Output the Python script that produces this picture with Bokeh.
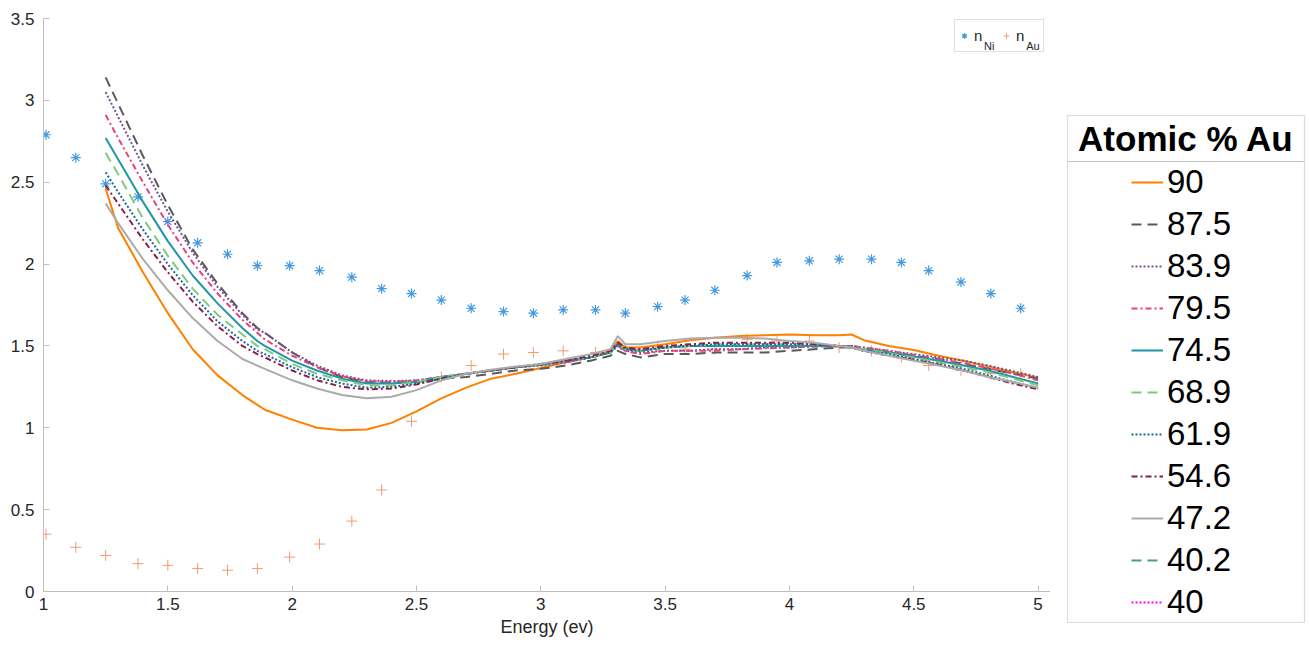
from bokeh.plotting import figure
from bokeh.layouts import row
from bokeh.models import (Legend, LegendItem, Label, BoxAnnotation, NumeralTickFormatter,
                          FixedTicker, Range1d)
from bokeh.embed import file_html
from bokeh.resources import INLINE

# ---------------- data ----------------
x_ticks = [1, 1.5, 2, 2.5, 3, 3.5, 4, 4.5, 5]
y_ticks = [0, 0.5, 1, 1.5, 2, 2.5, 3, 3.5]

e_curve = [1.25, 1.3, 1.4, 1.5, 1.6, 1.7, 1.8, 1.86, 1.89, 2.0, 2.1, 2.2, 2.3, 2.4, 2.5,
           2.6, 2.7, 2.8, 2.9, 3.0, 3.1, 3.2, 3.28, 3.31, 3.34, 3.4, 3.5, 3.6, 3.7, 3.8,
           3.9, 4.0, 4.1, 4.2, 4.25, 4.3, 4.4, 4.5, 4.6, 4.7, 4.8, 4.9, 5.0]

n_90 = [2.46, 2.22, 1.95, 1.70, 1.48, 1.32, 1.20, 1.14, 1.11, 1.05, 1.00, 0.985, 0.99, 1.03, 1.10,
        1.18, 1.245, 1.30, 1.33, 1.365, 1.40, 1.43, 1.47, 1.53, 1.49, 1.49, 1.51, 1.535, 1.55, 1.56,
        1.565, 1.57, 1.565, 1.565, 1.57, 1.535, 1.50, 1.475, 1.44, 1.41, 1.375, 1.34, 1.305]
n_87_5 = [3.14, 2.98, 2.66, 2.36, 2.09, 1.88, 1.70, 1.61, 1.58, 1.46, 1.37, 1.31, 1.28, 1.275, 1.28,
          1.30, 1.31, 1.33, 1.35, 1.36, 1.38, 1.41, 1.44, 1.47, 1.45, 1.43, 1.45, 1.45, 1.46, 1.46,
          1.46, 1.47, 1.48, 1.49, 1.49, 1.48, 1.46, 1.44, 1.42, 1.39, 1.36, 1.33, 1.30]
n_83_9 = [3.05, 2.90, 2.60, 2.32, 2.07, 1.86, 1.69, 1.60, 1.58, 1.46, 1.38, 1.32, 1.29, 1.285, 1.29,
          1.31, 1.33, 1.35, 1.37, 1.38, 1.40, 1.43, 1.46, 1.50, 1.47, 1.46, 1.47, 1.47, 1.48, 1.48,
          1.49, 1.49, 1.50, 1.50, 1.50, 1.49, 1.47, 1.45, 1.43, 1.41, 1.38, 1.345, 1.31]
n_79_5 = [2.91, 2.77, 2.50, 2.24, 2.01, 1.82, 1.66, 1.58, 1.54, 1.44, 1.37, 1.315, 1.285, 1.28, 1.29,
          1.31, 1.33, 1.35, 1.37, 1.385, 1.40, 1.43, 1.46, 1.50, 1.47, 1.45, 1.47, 1.47, 1.47, 1.48,
          1.485, 1.49, 1.495, 1.50, 1.50, 1.49, 1.47, 1.445, 1.42, 1.395, 1.365, 1.33, 1.29]
n_74_5 = [2.77, 2.64, 2.38, 2.14, 1.93, 1.76, 1.61, 1.53, 1.50, 1.41, 1.35, 1.30, 1.27, 1.27, 1.28,
          1.31, 1.33, 1.35, 1.37, 1.385, 1.41, 1.43, 1.46, 1.51, 1.48, 1.47, 1.49, 1.50, 1.50, 1.50,
          1.50, 1.50, 1.50, 1.50, 1.49, 1.48, 1.46, 1.435, 1.41, 1.38, 1.35, 1.31, 1.27]
n_68_9 = [2.68, 2.55, 2.28, 2.05, 1.85, 1.69, 1.57, 1.50, 1.48, 1.39, 1.33, 1.29, 1.26, 1.26, 1.28,
          1.31, 1.33, 1.35, 1.37, 1.385, 1.41, 1.43, 1.46, 1.51, 1.48, 1.47, 1.49, 1.50, 1.51, 1.51,
          1.51, 1.51, 1.51, 1.50, 1.49, 1.48, 1.455, 1.43, 1.40, 1.37, 1.34, 1.30, 1.26]
n_61_9 = [2.56, 2.44, 2.21, 2.00, 1.81, 1.65, 1.53, 1.47, 1.45, 1.37, 1.31, 1.27, 1.245, 1.25, 1.27,
          1.30, 1.33, 1.35, 1.37, 1.385, 1.41, 1.43, 1.46, 1.51, 1.48, 1.47, 1.49, 1.50, 1.51, 1.51,
          1.51, 1.51, 1.51, 1.50, 1.49, 1.47, 1.45, 1.42, 1.39, 1.36, 1.32, 1.28, 1.24]
n_54_6 = [2.48, 2.37, 2.15, 1.95, 1.77, 1.62, 1.50, 1.45, 1.43, 1.35, 1.29, 1.25, 1.235, 1.24, 1.265,
          1.30, 1.33, 1.35, 1.37, 1.39, 1.41, 1.44, 1.47, 1.52, 1.49, 1.48, 1.50, 1.51, 1.52, 1.52,
          1.52, 1.52, 1.51, 1.50, 1.49, 1.47, 1.44, 1.415, 1.385, 1.35, 1.31, 1.27, 1.235]
n_47_2 = [2.37, 2.25, 2.03, 1.84, 1.67, 1.53, 1.42, 1.38, 1.36, 1.29, 1.24, 1.20, 1.18, 1.19, 1.23,
          1.29, 1.33, 1.355, 1.375, 1.39, 1.42, 1.45, 1.48, 1.56, 1.51, 1.51, 1.53, 1.545, 1.55, 1.55,
          1.545, 1.53, 1.52, 1.50, 1.49, 1.47, 1.44, 1.41, 1.38, 1.35, 1.31, 1.28, 1.245]
# 40.2 and 40 are listed in the legend but no trace of them is visible in the plot
n_40_2 = [float("nan")]
n_40 = [float("nan")]

series_labels = ["90", "87.5", "83.9", "79.5", "74.5", "68.9", "61.9", "54.6", "47.2", "40.2", "40"]
series_values = [n_90, n_87_5, n_83_9, n_79_5, n_74_5, n_68_9, n_61_9, n_54_6, n_47_2, n_40_2, n_40]

# reference optical constants (markers)
e_ref = [1.01, 1.13, 1.25, 1.38, 1.50, 1.62, 1.74, 1.86, 1.99, 2.11, 2.24, 2.36, 2.48, 2.60, 2.72,
         2.85, 2.97, 3.09, 3.22, 3.34, 3.47, 3.58, 3.70, 3.83, 3.95, 4.08, 4.20, 4.33, 4.45, 4.56,
         4.69, 4.81, 4.93]
n_ni = [2.79, 2.65, 2.49, 2.41, 2.26, 2.13, 2.06, 1.99, 1.99, 1.96, 1.92, 1.85, 1.82, 1.78, 1.73,
        1.71, 1.70, 1.72, 1.72, 1.70, 1.74, 1.78, 1.84, 1.93, 2.01, 2.02, 2.03, 2.03, 2.01, 1.96,
        1.89, 1.82, 1.73]
n_au = [0.35, 0.27, 0.22, 0.17, 0.16, 0.14, 0.13, 0.14, 0.21, 0.29, 0.43, 0.62, 1.04, 1.31, 1.38,
        1.45, 1.46, 1.47, 1.46, 1.48, 1.50, 1.48, 1.48, 1.54, 1.53, 1.53, 1.49, 1.47, 1.43, 1.38,
        1.35, 1.33, 1.33]

# ---------------- styles ----------------
colors = ["#ff7f00", "#595959", "#7a4f93", "#e7427d", "#2196a6", "#7fc97f",
          "#1a6a94", "#8c1c4a", "#ababab", "#4f9a82", "#ff00ff"]
dashes = ["solid", "10 6", "2 2", "6 3 2 3", "solid", "10 6",
          "2 2", "6 3 2 3", "solid", "10 6", "2 2"]
FONT = "Liberation Sans"


def x_for(vals):
    return e_curve[:len(vals)]


p = figure(width=1050, height=646, output_backend="svg", toolbar_location=None,
           x_range=Range1d(1, 5.05), y_range=Range1d(0, 3.5),
           min_border_left=43, min_border_right=0, min_border_top=18, min_border_bottom=55)
p.frame_align = False
p.outline_line_color = None
p.xgrid.visible = False
p.ygrid.visible = False

for ax in (p.xaxis[0], p.yaxis[0]):
    ax.axis_line_color = "#bfbfbf"
    ax.major_tick_line_color = "#bfbfbf"
    ax.major_tick_in = 6
    ax.major_tick_out = 0
    ax.minor_tick_line_color = None
    ax.major_label_text_font = FONT
    ax.major_label_text_font_size = "17px"
    ax.major_label_text_color = "#262626"
    ax.formatter = NumeralTickFormatter(format="0.[0]")
p.xaxis.ticker = FixedTicker(ticks=x_ticks)
p.yaxis.ticker = FixedTicker(ticks=y_ticks)
p.xaxis.major_label_standoff = 6
p.yaxis.major_label_standoff = 9
p.xaxis.axis_label = "Energy (ev)"
p.xaxis.axis_label_text_font = FONT
p.xaxis.axis_label_text_font_style = "normal"
p.xaxis.axis_label_text_font_size = "18px"
p.xaxis.axis_label_text_color = "#262626"
p.xaxis.axis_label_standoff = 4

# reference markers
r_ni = p.scatter(e_ref, n_ni, marker="asterisk", size=10, line_color="#4499df", line_width=1.2)
r_au = p.scatter(e_ref, n_au, marker="cross", size=11, line_color="#f29a72", line_width=1)

# measured curves
for vals, c, d in zip(series_values, colors, dashes):
    p.line(x_for(vals), vals, line_color=c, line_width=2, line_dash=d)

# ---- small legend for the reference markers (inside the frame) ----
ref_legend = Legend(items=[LegendItem(label="n", renderers=[r_ni]),
                           LegendItem(label="n", renderers=[r_au])],
                    orientation="horizontal", location=(911, 539), padding=2, margin=0,
                    spacing=0, glyph_width=14, glyph_height=27, label_height=27,
                    label_width=25, label_standoff=3,
                    label_text_font=FONT, label_text_font_size="15px", label_text_color="#262626",
                    border_line_color="#bfbfbf", border_line_width=1,
                    background_fill_alpha=0)
p.add_layout(ref_legend)
# subscripts of the two legend labels
sub_ni = Label(x=4.783, y=3.335, text="Ni", text_font=FONT, text_font_size="11px",
               text_color="#262626", text_baseline="alphabetic", text_align="left")
sub_au = Label(x=4.952, y=3.335, text="Au", text_font=FONT, text_font_size="11px",
               text_color="#262626", text_baseline="alphabetic", text_align="left")
p.add_layout(sub_ni)
p.add_layout(sub_au)

# ---- legend panel on the right (its coordinates are pixels: x right, y down) ----
q = figure(width=259, height=646, output_backend="svg", toolbar_location=None,
           x_range=Range1d(-259, 0), y_range=Range1d(-646, 0),
           x_axis_location=None, y_axis_location=None, min_border=0)
q.frame_align = False
q.outline_line_color = None
q.xgrid.visible = False
q.ygrid.visible = False

items = []
for lab, vals, c, d in zip(series_labels, series_values, colors, dashes):
    # same series again; they fall outside this panel's ranges, only the legend swatch shows
    r = q.line(x_for(vals), vals, line_color=c, line_width=2, line_dash=d)
    items.append(LegendItem(label=lab, renderers=[r]))

q.add_layout(BoxAnnotation(left=-242, right=-5, top=-115, bottom=-161,
                           fill_alpha=0, line_color="#8c8c8c", line_width=1.2))
q.add_layout(BoxAnnotation(left=-242, right=-5, top=-161, bottom=-622,
                           fill_alpha=0, line_color="#8c8c8c", line_width=1.2))
q.add_layout(Label(x=-123.5, y=-138, text="Atomic % Au", level="overlay",
                   text_font=FONT, text_font_style="bold", text_font_size="35px",
                   text_align="center", text_baseline="middle", text_color="black"))

main_legend = Legend(items=items, location=(81, 23), padding=0, margin=0, spacing=0,
                     glyph_width=32, glyph_height=42, label_height=42, label_standoff=4,
                     label_text_font=FONT, label_text_font_size="33px",
                     label_text_color="black",
                     border_line_alpha=0, background_fill_alpha=0)
q.add_layout(main_legend)

layout = row(p, q, spacing=0)
open("out.html", "w").write(file_html(layout, INLINE))
